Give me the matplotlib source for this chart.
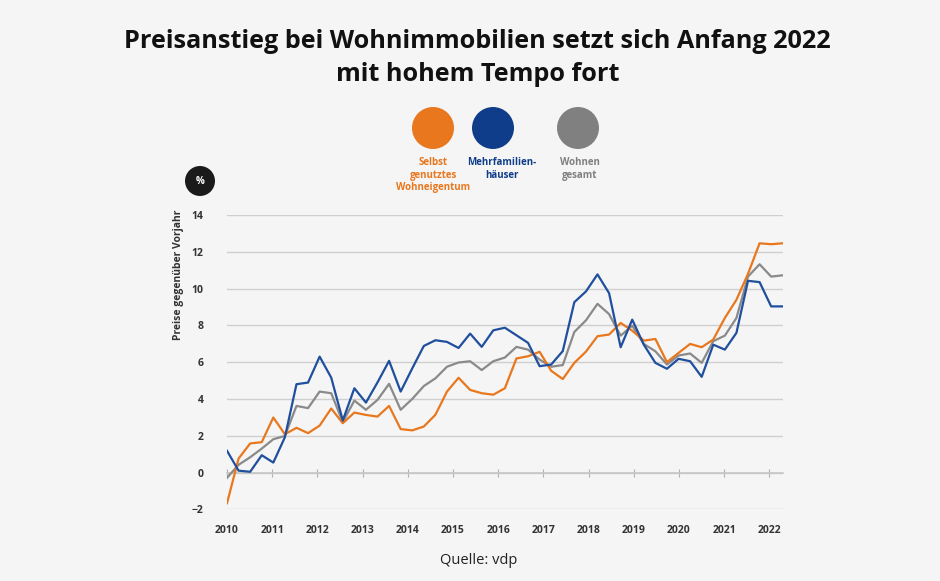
import numpy as np
import matplotlib
matplotlib.use("Agg")
import matplotlib.pyplot as plt
from matplotlib.patches import Circle

plt.rcParams['font.family'] = ['Open Sans', 'DejaVu Sans']

# quarterly values, 2010 Q1 .. 2022 Q1
years = [2010, 2011, 2012, 2013, 2014, 2015, 2016, 2017, 2018, 2019, 2020, 2021, 2022]
selbst = [-1.67, 0.76, 1.58, 1.65, 2.99, 2.08, 2.43, 2.14, 2.55, 3.48,
          2.68, 3.26, 3.13, 3.04, 3.62, 2.36, 2.29, 2.50, 3.14, 4.40,
          5.15, 4.49, 4.31, 4.23, 4.58, 6.20, 6.32, 6.56, 5.53, 5.08,
          5.96, 6.57, 7.41, 7.50, 8.13, 7.71, 7.17, 7.26, 6.00, 6.50,
          6.99, 6.81, 7.23, 8.40, 9.39, 10.80, 12.46, 12.41, 12.46]
mehrfam = [1.18, 0.10, 0.04, 0.94, 0.54, 1.92, 4.80, 4.89, 6.30, 5.16,
           2.83, 4.58, 3.80, 4.90, 6.07, 4.40, 5.66, 6.88, 7.19, 7.10,
           6.77, 7.55, 6.83, 7.73, 7.87, 7.46, 7.05, 5.78, 5.87, 6.60,
           9.26, 9.84, 10.77, 9.75, 6.81, 8.31, 6.95, 5.96, 5.64, 6.18,
           6.05, 5.20, 6.95, 6.68, 7.59, 10.42, 10.35, 9.03, 9.03]
gesamt = [-0.29, 0.42, 0.83, 1.30, 1.81, 1.99, 3.62, 3.50, 4.40, 4.31,
          2.74, 3.91, 3.41, 3.95, 4.82, 3.41, 4.00, 4.70, 5.12, 5.75,
          5.98, 6.05, 5.57, 6.05, 6.25, 6.83, 6.68, 6.14, 5.75, 5.84,
          7.64, 8.27, 9.17, 8.61, 7.44, 7.98, 6.99, 6.59, 5.87, 6.36,
          6.47, 5.96, 7.14, 7.44, 8.40, 10.65, 11.32, 10.65, 10.72]
labels = ["Selbst\ngenutztes\nWohneigentum", "Mehrfamilien-\nhäuser", "Wohnen\ngesamt"]

ORANGE = "#e8771e"
BLUE = "#1f4f9d"
GRAY = "#8a8a8a"
BG = "#f5f5f5"
TICK_STEP = 3.904  # year labels are spaced a bit tighter than 4 quarters
H = 5.81

fig = plt.figure(figsize=(9.4, H), dpi=100, facecolor=BG)
ax = fig.add_axes([0.2415, 0.1234, 0.5912, 0.5066], facecolor=BG)

x = np.arange(len(selbst))
ax.plot(x, gesamt, color=GRAY, lw=1.6, zorder=3)
ax.plot(x, selbst, color=ORANGE, lw=1.6, zorder=4)
ax.plot(x, mehrfam, color=BLUE, lw=1.6, zorder=5)

ax.set_xlim(0, len(selbst) - 1)
ax.set_ylim(-2, 14)
ax.set_yticks(np.arange(-2, 15, 2))
ax.set_yticklabels(["\u22122" if v < 0 else str(v) for v in range(-2, 15, 2)])
ax.grid(axis='y', color="#cfcfcf", lw=1.0)
ax.set_axisbelow(True)
for s in ["top", "right", "left"]:
    ax.spines[s].set_visible(False)
ax.spines["bottom"].set_position(("data", 0))
ax.spines["bottom"].set_color("#c4c4c4")
ax.spines["bottom"].set_linewidth(1.1)

ax.set_xticks(np.arange(len(years)) * TICK_STEP)
ax.set_xticklabels([str(y) for y in years])
ax.tick_params(axis='x', direction='inout', length=6, width=0.8, color="#b0b0b0",
               pad=35, labelsize=7.5, labelcolor="#333333")
ax.tick_params(axis='y', length=0, pad=17, labelsize=7.5, labelcolor="#333333")
for t in ax.get_xticklabels() + ax.get_yticklabels():
    t.set_fontweight('bold')

ax.set_ylabel("Preise gegenüber Vorjahr", fontsize=7.5, fontweight='bold', color="#333333")
ax.yaxis.set_label_coords(-0.078, 0.796)

# title
fig.text(0.508, 1 - 58 / 581, "Preisanstieg bei Wohnimmobilien setzt sich Anfang 2022\nmit hohem Tempo fort",
         ha='center', va='center', fontsize=18.2, fontweight='bold', color="#111111",
         linespacing=1.4)

# legend with dots (circle geometry in inches so they stay round)
leg_x = [433, 493, 578]
leg_lx = [433, 502, 580]
for cx, lx, col, lab in zip(leg_x, leg_lx, [ORANGE, "#0f3d8a", "#808080"], labels):
    fig.patches.append(Circle((cx / 100, H - 1.28), 0.21, transform=fig.dpi_scale_trans,
                              facecolor=col, edgecolor='none'))
    fig.text(lx / 940, 1 - 157 / 581, lab, ha='center', va='top', fontsize=7,
             fontweight='bold', color=col, linespacing=1.2)

# percent badge
fig.patches.append(Circle((2.0, H - 1.81), 0.15, transform=fig.dpi_scale_trans,
                          facecolor="#1a1a1a", edgecolor='none'))
fig.text(200 / 940, 1 - 181 / 581, "%", ha='center', va='center', fontsize=7,
         fontweight='bold', color='white')

fig.text(479 / 940, 1 - 561 / 581, "Quelle: vdp", ha='center', va='center',
         fontsize=10.5, color="#222222")

fig.savefig("out.png", dpi=100, facecolor=BG)
